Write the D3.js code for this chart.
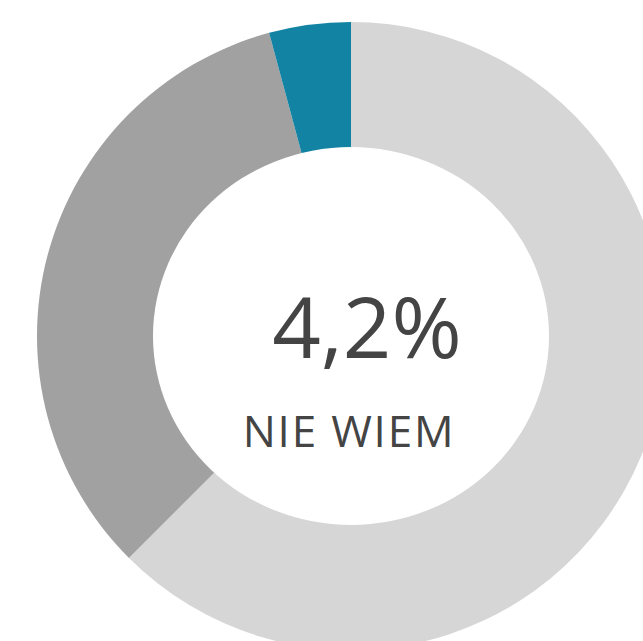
<!DOCTYPE html>
<html>
<head>
<meta charset="utf-8">
<script src="https://cdn.jsdelivr.net/npm/d3@7"></script>
<style>
  body { margin: 0; background: #fff; }
  svg { display: block; }
  text { font-family: "Open Sans", sans-serif; fill: #444; }
</style>
</head>
<body>
<svg class="donut"></svg>
<script>
var width = 643,
    height = 641;

var categories = ["TAK", "NIE", "NIE WIEM"];
var values = [62.5, 33.3, 4.2];
var colors = ["#d6d6d6", "#a1a1a1", "#1283a3"];

var cx = 351, cy = 336,
    outer = 314;

var svg = d3.select(".donut")
    .attr("width", width)
    .attr("height", height);

var g = svg.append("g")
    .attr("transform", "translate(" + cx + "," + cy + ")");

var pie = d3.pie()
    .sort(null)
    .value(function(d) { return d; });

var arc = d3.arc()
    .innerRadius(180)
    .outerRadius(outer);

var color = d3.scaleOrdinal()
    .domain(categories)
    .range(colors);

g.selectAll(".slice")
  .data(pie(values))
  .enter()
    .append("path")
    .attr("class", "slice")
    .attr("d", arc)
    .attr("fill", function(d, i) { return color(categories[i]); });

// hole of the doughnut (slightly wider than tall in the original)
g.append("ellipse")
    .attr("rx", 198)
    .attr("ry", 189)
    .attr("fill", "#fff");

var pct = d3.format(".1f");

svg.append("text")
    .attr("x", 367)
    .attr("y", 358)
    .attr("text-anchor", "middle")
    .style("font-size", "85px")
    .text(pct(values[2]).replace(".", ",") + "%");

svg.append("text")
    .attr("x", 349)
    .attr("y", 447)
    .attr("text-anchor", "middle")
    .style("font-size", "44px")
    .style("letter-spacing", "1.8px")
    .text(categories[2]);
</script>
</body>
</html>
